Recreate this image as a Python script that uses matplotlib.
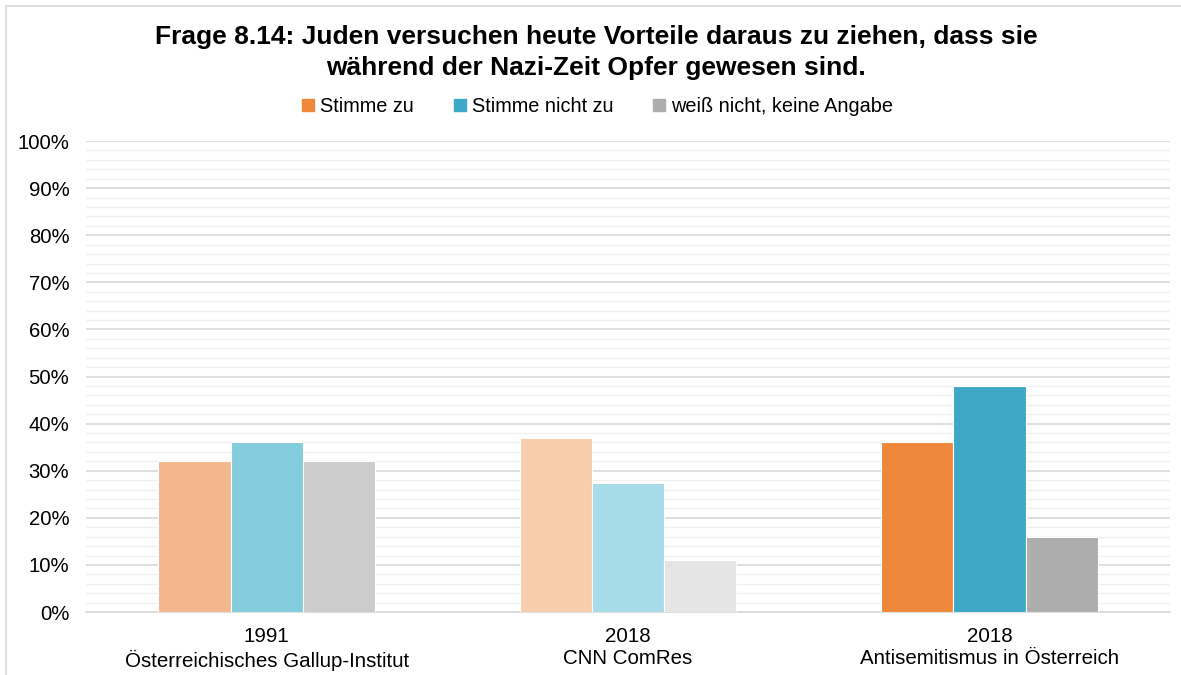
import numpy as np
import matplotlib
matplotlib.use('Agg')
import matplotlib.pyplot as plt
from matplotlib.patches import Rectangle
from matplotlib.ticker import MultipleLocator, FuncFormatter

plt.rcParams['font.family'] = ['Liberation Sans', 'DejaVu Sans']

# Data
groups = ['1991\nÖsterreichisches Gallup-Institut',
          '2018\nCNN ComRes',
          '2018\nAntisemitismus in Österreich']
series = ['Stimme zu', 'Stimme nicht zu', 'weiß nicht, keine Angabe']
stimme_zu = [32, 37, 36]
stimme_nicht_zu = [36, 27.5, 48]
weiss_nicht = [32, 11, 16]

# colours per series, one shade per group (older surveys paler)
colors = [
    ['#F4B78D', '#F8CDAC', '#EE883A'],
    ['#84CDDE', '#A7DBE7', '#3DA9C6'],
    ['#CCCCCC', '#E5E5E5', '#ADADAD'],
]
legend_colors = ['#EE883A', '#3DA9C6', '#ADADAD']

fig = plt.figure(figsize=(11.81, 6.75), dpi=100)
ax = fig.add_axes([0.0728, 0.0933, 0.918, 0.6977])

x = np.arange(len(groups))
width = 0.2
values = [stimme_zu, stimme_nicht_zu, weiss_nicht]
for i, vals in enumerate(values):
    ax.bar(x + (i - 1) * width, vals, width, color=colors[i],
           edgecolor='white', linewidth=0.8, zorder=3, label=series[i])

ax.set_xlim(-0.5, len(groups) - 0.5)
ax.set_ylim(0, 100)
ax.yaxis.set_major_locator(MultipleLocator(10))
ax.yaxis.set_minor_locator(MultipleLocator(2))
ax.yaxis.set_major_formatter(FuncFormatter(lambda v, p: '%d%%' % v))
ax.grid(which='major', axis='y', color='#D9D9D9', linewidth=1.2, zorder=0)
ax.grid(which='minor', axis='y', color='#F0F0F0', linewidth=1.0, zorder=0)
ax.set_xticks(x)
ax.set_xticklabels(groups, fontsize=14.8, linespacing=1.2)
ax.tick_params(axis='y', which='both', length=0, labelsize=14.6, pad=12)
ax.tick_params(axis='x', length=0, pad=11)
for s in ['top', 'right', 'left']:
    ax.spines[s].set_visible(False)
ax.spines['bottom'].set_color('#D9D9D9')
ax.spines['bottom'].set_linewidth(1.2)

handles = [Rectangle((0, 0), 1, 1, color=c) for c in legend_colors]
fig.legend(handles, series, loc='center', bbox_to_anchor=(0.506, 0.842),
           ncol=3, frameon=False, fontsize=14.3, handlelength=0.6,
           handleheight=0.6, handletextpad=0.3, columnspacing=2.0)

fig.text(0.505, 0.922,
         'Frage 8.14: Juden versuchen heute Vorteile daraus zu ziehen, dass sie\n'
         'während der Nazi-Zeit Opfer gewesen sind.',
         ha='center', va='center', fontsize=19, fontweight='bold',
         linespacing=1.38)

# light frame around the chart area
fig.patches.append(Rectangle((6 / 1181, -0.1), 1.2, 1 - 6 / 675 + 0.1,
                             transform=fig.transFigure, fill=False,
                             edgecolor='#D9D9D9', linewidth=1.2))

fig.savefig('out.png', dpi=100)
